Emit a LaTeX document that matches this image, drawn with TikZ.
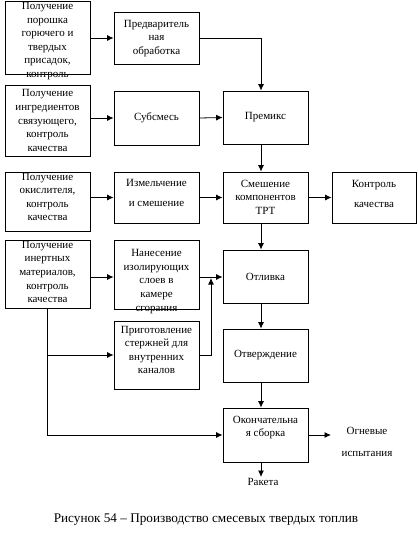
\documentclass[tikz,border=0pt]{standalone}
\usepackage{fontspec}
\setmainfont{Liberation Serif}
\usetikzlibrary{positioning,arrows.meta,calc}

\tikzset{
  box/.style={draw, line width=0.8pt, minimum width=85pt, inner sep=0pt},
  txt/.style={align=center, inner sep=1pt, font=\fontsize{11}{13.6}\selectfont},
  arr/.style={line width=0.8pt, -{Latex[length=6.5pt,width=6pt]}},
  ln/.style={line width=0.8pt}
}

\begin{document}
\begin{tikzpicture}[x=1pt, y=-1pt]
    \useasboundingbox (0,0) rectangle (418,550);
    % left column
    \node[box, minimum height=73pt] (b1) at (47.5,37.5) {};
    \node[box, minimum height=71pt] (b3) at (47.5,120.5) {};
    \node[box, minimum height=59pt] (b5) at (47.5,201.5) {};
    \node[box, minimum height=68pt] (b7) at (47.5,274) {};
    % middle column
    \node[box, minimum height=52pt] (b2) at (156.5,38) {};
    \node[box, minimum height=54pt] (b4) at (156.5,118) {};
    \node[box, minimum height=51pt] (b6) at (156.5,197.5) {};
    \node[box, minimum height=69pt] (b8) at (156.5,274.5) {};
    \node[box, minimum height=68pt] (b9) at (156.5,355) {};
    % right column
    \node[box, minimum height=53pt] (premix) at (265.5,117.5) {};
    \node[box, minimum height=51pt] (mix) at (265.5,197.5) {};
    \node[box, minimum height=51pt, minimum width=84pt] (ctrl) at (374,197.5) {};
    \node[box, minimum height=53pt] (otl) at (265.5,276.5) {};
    \node[box, minimum height=53pt] (otv) at (265.5,355.5) {};
    \node[box, minimum height=54pt] (fin) at (265.5,435) {};

    % texts
    \node[txt] (t1) at (47.5,41) {Получение\\порошка\\горючего и\\твердых\\присадок,\\контроль};
    \node[txt] (t2) at (156.5,38.5) {Предваритель\\ная\\обработка};
    \node[txt] (t3) at (47.5,120.5) {Получение\\ингредиентов\\связующего,\\контроль\\качества};
    \node[txt] (t4) at (156.5,118) {Субсмесь};
    \node[txt] (t5) at (47.5,197) {Получение\\окислителя,\\контроль\\качества};
    \node[txt] (t6) at (156.5,193) {Измельчение\\[6pt]и смешение};
    \node[txt] (t7) at (47.5,272) {Получение\\инертных\\материалов,\\контроль\\качества};
    \node[txt] (t8) at (156.5,281.5) {Нанесение\\изолирующих\\слоев в\\камере\\сгорания};
    \node[txt] (t9) at (156.5,350) {Приготовление\\стержней для\\внутренних\\каналов};
    \node[txt] (tpremix) at (265.5,117.5) {Премикс};
    \node[txt] (tmix) at (265.5,197) {Смешение\\компонентов\\ТРТ};
    \node[txt] (tctrl) at (374,194) {Контроль\\[6pt]качества};
    \node[txt] (totl) at (265.5,277) {Отливка};
    \node[txt] (totv) at (265.5,355) {Отверждение};
    \node[txt] (tfin) at (265.5,427.5) {Окончательна\\я сборка};
    \node[txt] (fire) at (367,442) {Огневые\\[8pt]испытания};
    \node[txt, anchor=north] (rocket) at (263,477) {Ракета};
    \node[txt, font=\fontsize{13.2}{15}\selectfont] (cap) at (206,520) {Рисунок 54 -- Производство смесевых твердых топлив};

    % helper coordinates
    \coordinate (spine) at (261,0);
    \coordinate (row) at (0,277);
    \coordinate (jn) at (211,278);
    \coordinate (fireend) at (331,435);

    % connectors
    \draw[arr] (b1.east |- b2.west) -- (b2.west);
    \draw[arr] (b2.east) -| (premix.north -| spine);
    \draw[arr] (b3.east |- b4.west) -- (b4.west);
    \draw[arr] (b4.east) -- (premix.west);
    \draw[arr] (premix.south -| spine) -- (mix.north -| spine);
    \draw[arr] (b5.east |- b6.west) -- (b6.west);
    \draw[arr] (b6.east) -- (mix.west);
    \draw[arr] (mix.east) -- (ctrl.west);
    \draw[arr] (mix.south -| spine) -- (otl.north -| spine);
    \draw[arr] (b7.east |- row) -- (b8.west |- row);
    \draw[arr] (b8.east |- row) -- (otl.west |- row);
    \draw[arr] (b9.east) -| (jn);
    \draw[arr] (b7.south) |- (fin.west);
    \draw[arr] (b7.south |- b9.west) -- (b9.west);
    \draw[arr] (otl.south -| spine) -- (otv.north -| spine);
    \draw[arr] (otv.south -| spine) -- (fin.north -| spine);
    \draw[arr] (fin.east) -- (fireend);
    \draw[arr] (fin.south -| spine) -- (rocket.north -| spine);
\end{tikzpicture}
\end{document}
